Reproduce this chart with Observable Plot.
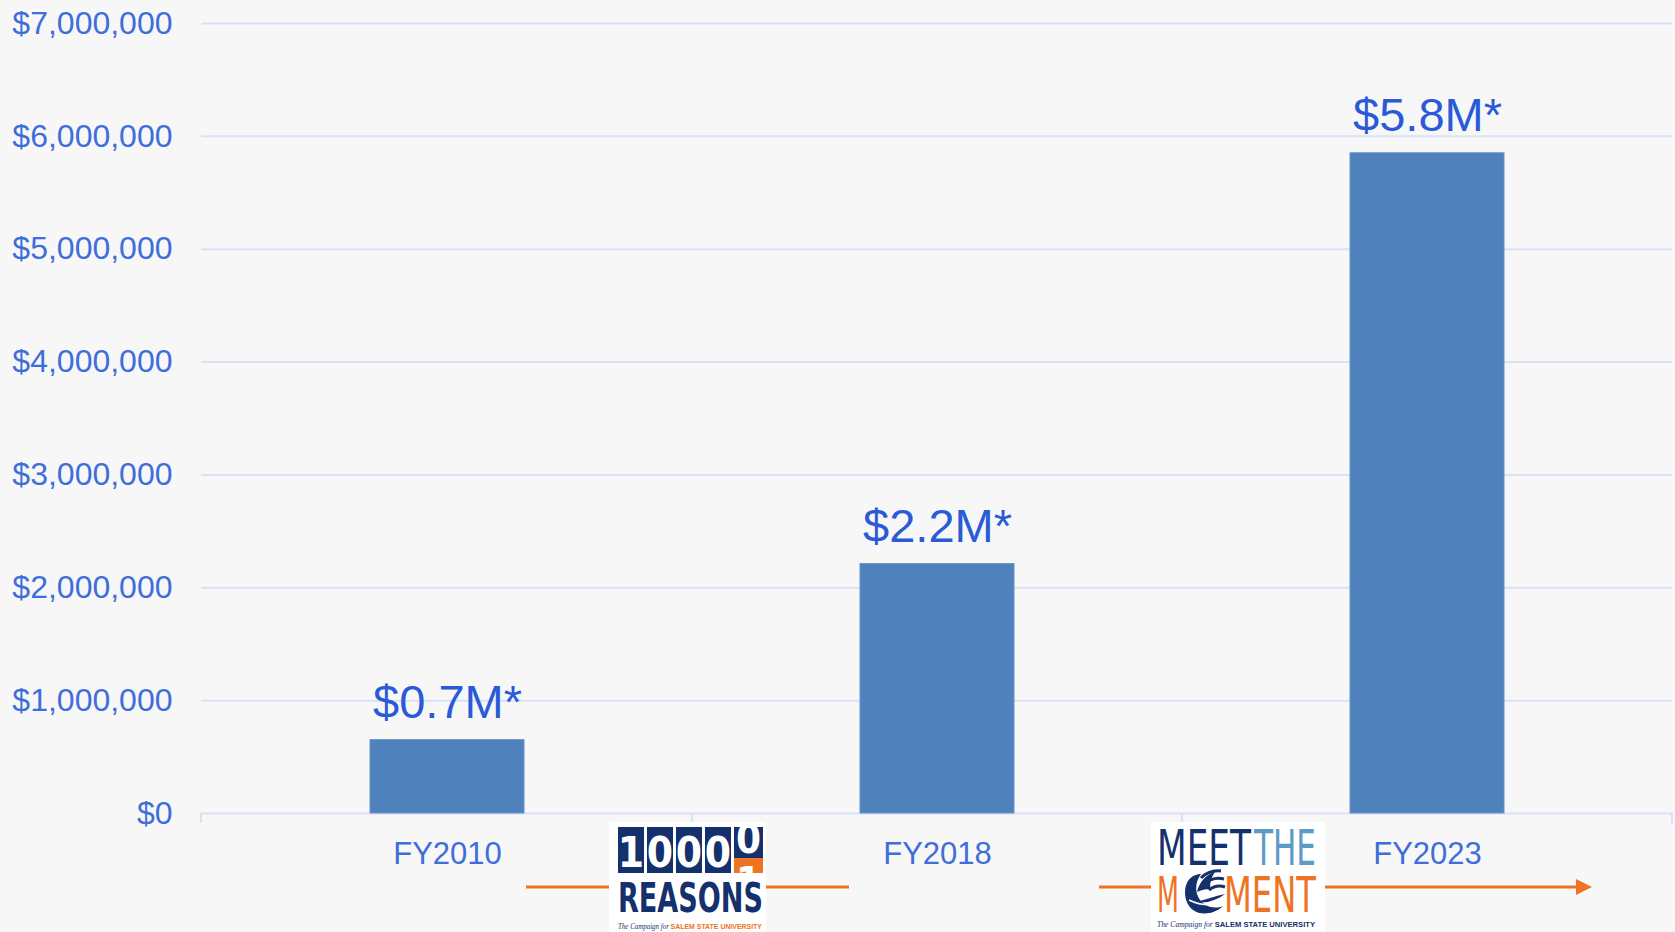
<!DOCTYPE html>
<html><head><meta charset="utf-8">
<script src="https://cdn.jsdelivr.net/npm/d3@7"></script>
<script src="https://cdn.jsdelivr.net/npm/@observablehq/plot@0.6"></script>
<style>
html,body{margin:0;padding:0;background:#f7f7f7;overflow:hidden;}
#chart svg{display:block;}
</style></head><body><div id="chart"></div>
<script>
// ---- data ----
const categories = ["FY2010", "FY2018", "FY2023"];
const values = [650000, 2210000, 5850000];
const valueLabels = ["$0.7M*", "$2.2M*", "$5.8M*"];
const yTicks = [0, 1000000, 2000000, 3000000, 4000000, 5000000, 6000000, 7000000];
const logo1Digits = ["1", "0", "0", "0"];
const logo1Word = "REASONS";
const logo2Top = ["MEET", "THE"];
const logo2Bottom = ["M", "MENT"];
const tagline = ["The Campaign for ", "SALEM STATE UNIVERSITY"];

const data = categories.map((c, i) => ({category: c, value: values[i], label: valueLabels[i]}));

const FONT = "'Liberation Sans', Arial, sans-serif";
const NARROW = "'Liberation Sans Narrow', 'DejaVu Sans Condensed', 'Liberation Sans', sans-serif";
const NAVY = "#14306d", ORANGE = "#ee7424", LBLUE = "#5b9bc5", GRID = "#d9e2f5";

function decorations(index, scales, vals, dims) {
  const g = d3.create("svg:g").attr("text-anchor", "start");
  const x = scales.x;
  const bw = typeof x.bandwidth === "function" ? x.bandwidth() : x.bandwidth;
  const starts = categories.map(c => x(c));
  const bounds = [dims.marginLeft];
  for (let i = 1; i < starts.length; i++) bounds.push((starts[i - 1] + bw + starts[i]) / 2);
  bounds.push(dims.width - dims.marginRight);
  const y0 = scales.y(0);
  // axis boundary ticks
  g.selectAll("line.tk").data(bounds).join("line")
    .attr("x1", d => d).attr("x2", d => d).attr("y1", y0).attr("y2", y0 + 10)
    .attr("stroke", GRID).attr("stroke-width", 2);

  const ay = y0 + 74;
  // arrow 1
  g.append("line").attr("x1", starts[0] + bw + 2).attr("x2", starts[1] - 11)
    .attr("y1", ay).attr("y2", ay).attr("stroke", ORANGE).attr("stroke-width", 3);
  // arrow 2
  const tip = starts[2] + bw + 88;
  g.append("line").attr("x1", bounds[2] - 83).attr("x2", tip - 10)
    .attr("y1", ay).attr("y2", ay).attr("stroke", ORANGE).attr("stroke-width", 3);
  g.append("path").attr("d", `M${tip},${ay} L${tip - 16},${ay - 8} L${tip - 16},${ay + 8} Z`).attr("fill", ORANGE);

  // ---- logo 1 ----
  const top = y0 + 9;
  const l1 = g.append("g").attr("transform", `translate(${bounds[1] - 83},${top})`);
  l1.append("rect").attr("width", 157).attr("height", 120).attr("fill", "#ffffff");
  const tx = [9, 38, 67, 96];
  logo1Digits.forEach((d, i) => {
    l1.append("rect").attr("x", tx[i]).attr("y", 5).attr("width", 26).attr("height", 46).attr("fill", NAVY);
    l1.append("text").attr("x", tx[i] + 13).attr("y", 45).attr("text-anchor", "middle")
      .attr("font-family", NARROW).attr("font-weight", "bold").attr("font-size", 42).attr("fill", "#fff").text(d);
  });
  const cp1 = l1.append("clipPath").attr("id", "cpA");
  cp1.append("rect").attr("x", 125).attr("y", 5).attr("width", 29).attr("height", 31);
  const cp2 = l1.append("clipPath").attr("id", "cpB");
  cp2.append("rect").attr("x", 125).attr("y", 36).attr("width", 29).attr("height", 15);
  l1.append("rect").attr("x", 125).attr("y", 5).attr("width", 29).attr("height", 31).attr("fill", NAVY);
  l1.append("rect").attr("x", 125).attr("y", 36).attr("width", 29).attr("height", 15).attr("fill", ORANGE);
  l1.append("text").attr("x", 139.5).attr("y", 31).attr("text-anchor", "middle").attr("clip-path", "url(#cpA)")
    .attr("font-family", NARROW).attr("font-weight", "bold").attr("font-size", 40).attr("fill", "#fff").text("0");
  l1.append("text").attr("x", 139.5).attr("y", 74).attr("text-anchor", "middle").attr("clip-path", "url(#cpB)")
    .attr("font-family", NARROW).attr("font-weight", "bold").attr("font-size", 40).attr("fill", "#fff").text("1");
  l1.append("text").attr("x", 9).attr("y", 90).attr("textLength", 145).attr("lengthAdjust", "spacingAndGlyphs")
    .attr("font-family", NARROW).attr("font-weight", "bold").attr("font-size", 41).attr("fill", NAVY).text(logo1Word);
  const t1 = l1.append("text").attr("x", 9).attr("y", 107).attr("textLength", 144).attr("lengthAdjust", "spacingAndGlyphs")
    .attr("font-size", 8);
  t1.append("tspan").attr("font-family", "'Liberation Serif', serif").attr("font-style", "italic").attr("fill", NAVY).text(tagline[0]);
  t1.append("tspan").attr("font-family", FONT).attr("font-weight", "bold").attr("fill", ORANGE).text(tagline[1]);

  // ---- logo 2 ----
  const l2 = g.append("g").attr("transform", `translate(${bounds[2] - 31},${top})`);
  l2.append("rect").attr("width", 174).attr("height", 120).attr("fill", "#ffffff");
  l2.append("text").attr("x", 6).attr("y", 43).attr("textLength", 94).attr("lengthAdjust", "spacingAndGlyphs")
    .attr("font-family", NARROW).attr("font-size", 49).attr("fill", NAVY).text(logo2Top[0]);
  l2.append("text").attr("x", 103).attr("y", 43).attr("textLength", 62).attr("lengthAdjust", "spacingAndGlyphs")
    .attr("font-family", NARROW).attr("font-size", 49).attr("fill", LBLUE).text(logo2Top[1]);
  l2.append("text").attr("x", 6).attr("y", 90).attr("textLength", 22).attr("lengthAdjust", "spacingAndGlyphs")
    .attr("font-family", NARROW).attr("font-size", 49).attr("fill", ORANGE).text(logo2Bottom[0]);
  l2.append("text").attr("x", 73).attr("y", 90).attr("textLength", 92).attr("lengthAdjust", "spacingAndGlyphs")
    .attr("font-family", NARROW).attr("font-size", 49).attr("fill", ORANGE).text(logo2Bottom[1]);
  // ship emblem (the "O")
  l2.append("path").attr("fill", NAVY)
    .attr("d", "M34,70 C34,58 42,52 50,52 C46,58 44,64 46,72 C50,84 62,88 72,84 C64,92 50,94 42,88 C37,84 34,78 34,70 Z");
  l2.append("path").attr("fill", NAVY)
    .attr("d", "M46,70 C48,60 56,52 64,50 C60,56 58,62 60,68 C56,66 50,68 46,70 Z");
  l2.append("path").attr("fill", "none").attr("stroke", NAVY).attr("stroke-width", 3)
    .attr("d", "M50,56 C56,50 62,48 70,49 M54,62 C60,56 66,55 73,57 M58,68 C63,64 68,63 74,65");
  l2.append("path").attr("fill", NAVY)
    .attr("d", "M44,80 C54,78 64,74 74,72 C66,78 56,82 44,80 Z");
  l2.append("path").attr("fill", "none").attr("stroke", "#fff").attr("stroke-width", 1.5)
    .attr("d", "M38,78 C46,82 56,84 66,82");
  const t2 = l2.append("text").attr("x", 6).attr("y", 105).attr("textLength", 158).attr("lengthAdjust", "spacingAndGlyphs")
    .attr("font-size", 8);
  t2.append("tspan").attr("font-family", "'Liberation Serif', serif").attr("font-style", "italic").attr("fill", NAVY).text(tagline[0]);
  t2.append("tspan").attr("font-family", FONT).attr("font-weight", "bold").attr("fill", NAVY).text(tagline[1]);
  return g.node();
}

const chart = Plot.plot({
  width: 1675,
  height: 932,
  marginLeft: 201,
  marginRight: 3,
  marginTop: 23,
  marginBottom: 119,
  style: {background: "#f7f7f7", fontFamily: FONT, overflow: "visible"},
  x: {domain: categories, paddingInner: 0.686, paddingOuter: 0.343, label: null},
  y: {domain: [0, 7000000], label: null},
  marks: [
    Plot.ruleY(yTicks, {stroke: GRID, strokeWidth: 2}),
    Plot.barY(data, {x: "category", y: "value", fill: "#4f81bd", stroke: "#6b93c9", strokeWidth: 1}),
    Plot.text(data, {x: "category", y: "value", text: "label", dy: -37, fontSize: 47, fill: "#2a5ad7"}),
    Plot.axisY({ticks: yTicks, tickFormat: d => "$" + d3.format(",")(d), tickSize: 0, tickPadding: 29,
      fontSize: 32, color: "#3f6edb", label: null}),
    Plot.axisX({tickSize: 0, tickPadding: 28, fontSize: 31, color: "#3f6edb", label: null}),
    decorations
  ]
});
document.getElementById("chart").appendChild(chart);
</script>
</body></html>
